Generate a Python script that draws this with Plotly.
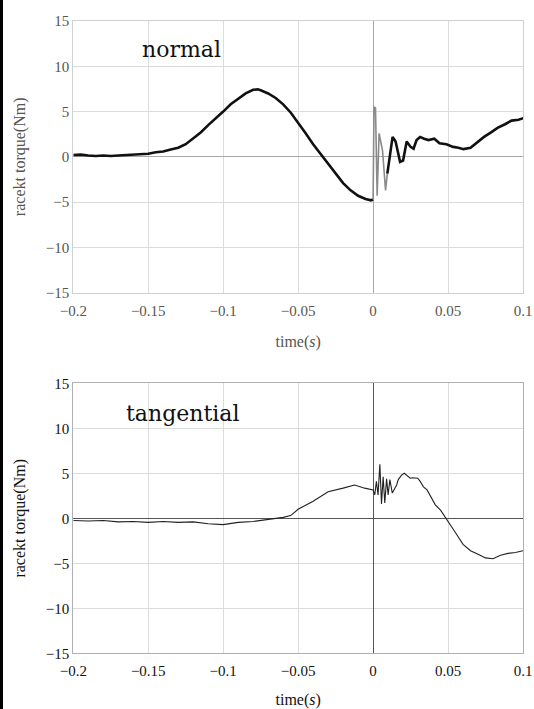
import numpy as np
import plotly.graph_objects as go

# ---------------- data ----------------
# normal racket torque (top panel)
normal_t = [-0.200, -0.195, -0.190, -0.185, -0.180, -0.175, -0.170, -0.165, -0.160, -0.155,
            -0.150, -0.145, -0.140, -0.135, -0.130, -0.125, -0.120, -0.115, -0.110, -0.105,
            -0.100, -0.095, -0.090, -0.085, -0.080, -0.077, -0.075, -0.070, -0.065, -0.060,
            -0.055, -0.050, -0.045, -0.040, -0.035, -0.030, -0.025, -0.020, -0.015, -0.010,
            -0.005, -0.0015, 0.0000]
normal_v = [0.2, 0.25, 0.15, 0.1, 0.15, 0.1, 0.15, 0.2, 0.25, 0.3,
            0.35, 0.5, 0.6, 0.8, 1.0, 1.4, 2.0, 2.7, 3.5, 4.2,
            5.0, 5.8, 6.4, 7.0, 7.4, 7.45, 7.35, 7.0, 6.5, 5.8,
            4.9, 3.8, 2.6, 1.4, 0.3, -0.8, -1.9, -2.9, -3.7, -4.3,
            -4.65, -4.8, -4.7]
# impact oscillation (drawn thin grey)
impact_t = [0.0000, 0.0006, 0.0016, 0.0027, 0.0040, 0.0063, 0.0083, 0.0095]
impact_v = [-4.7, 5.5, 5.4, -4.3, 2.6, 0.7, -3.7, -1.85]
# after impact
post_t = [0.0095, 0.0130, 0.0150, 0.0180, 0.0200, 0.0224, 0.0250, 0.0270, 0.0290,
          0.0314, 0.0340, 0.0370, 0.0408, 0.0443, 0.0489, 0.0534, 0.0569, 0.0603, 0.0650,
          0.0695, 0.0740, 0.0787, 0.0830, 0.0880, 0.0924, 0.0970, 0.1007]
post_v = [-1.85, 2.2, 1.7, -0.55, -0.4, 1.7, 1.1, 0.9, 1.85,
          2.2, 2.0, 1.85, 2.0, 1.5, 1.4, 1.1, 1.0, 0.85, 1.0,
          1.6, 2.2, 2.7, 3.2, 3.6, 4.0, 4.1, 4.3]

# tangential racket torque (bottom panel)
tang_t = [-0.200, -0.190, -0.180, -0.170, -0.160, -0.150, -0.140, -0.130, -0.120, -0.110,
          -0.100, -0.090, -0.080, -0.070, -0.060, -0.055, -0.050, -0.040, -0.030, -0.020,
          -0.0123, -0.0056, 0.0000, 0.0011, 0.0022, 0.0033, 0.0045, 0.0056, 0.0067, 0.0078,
          0.0090, 0.0100, 0.0112, 0.0128, 0.0141, 0.0157, 0.0168, 0.0190, 0.0208, 0.0224,
          0.0247, 0.0260, 0.0280, 0.0298, 0.0314, 0.0336, 0.0360, 0.0380, 0.0415, 0.0450,
          0.0500, 0.0550, 0.0600, 0.0650, 0.0700, 0.0750, 0.0800, 0.0850, 0.0900, 0.0950,
          0.1000]
tang_v = [-0.25, -0.3, -0.25, -0.4, -0.35, -0.45, -0.35, -0.45, -0.4, -0.6,
          -0.7, -0.45, -0.35, -0.15, 0.1, 0.3, 1.0, 1.9, 2.95, 3.35,
          3.7, 3.35, 3.15, 2.6, 4.1, 2.6, 6.0, 1.6, 4.6, 1.7,
          4.4, 2.6, 4.3, 2.8, 3.2, 3.7, 4.3, 4.8, 5.0, 4.8,
          4.45, 4.5, 4.45, 4.45, 4.1, 3.5, 3.15, 2.6, 1.5, 0.9,
          -0.3, -1.6, -2.9, -3.6, -4.0, -4.4, -4.5, -4.1, -3.9, -3.8,
          -3.6]

x_ticks = [-0.2, -0.15, -0.1, -0.05, 0, 0.05, 0.1]
x_ticktext = ["\u22120.2", "\u22120.15", "\u22120.1", "\u22120.05", "0", "0.05", "0.1"]
y_ticks = [-15, -10, -5, 0, 5, 10, 15]
y_ticktext = ["\u221215", "\u221210", "\u22125", "0", "5", "10", "15"]

# ---------------- figure ----------------
W, H = 534, 709
fig = go.Figure()

fig.add_trace(go.Scatter(x=normal_t, y=normal_v, mode="lines",
                         line=dict(color="#111111", width=2.6), xaxis="x", yaxis="y",
                         showlegend=False))
fig.add_trace(go.Scatter(x=impact_t, y=impact_v, mode="lines",
                         line=dict(color="#8a8a8a", width=1.6), xaxis="x", yaxis="y",
                         showlegend=False))
fig.add_trace(go.Scatter(x=post_t, y=post_v, mode="lines",
                         line=dict(color="#111111", width=2.6), xaxis="x", yaxis="y",
                         showlegend=False))
fig.add_trace(go.Scatter(x=tang_t, y=tang_v, mode="lines",
                         line=dict(color="#222222", width=1.1), xaxis="x2", yaxis="y2",
                         showlegend=False))

xdom = [73.3 / W, 523.0 / W]
top_dom = [1 - 292.7 / H, 1 - 21.0 / H]
bot_dom = [1 - 653.3 / H, 1 - 383.3 / H]

serif = "Liberation Serif"


def xaxis_cfg(anchor, color, zcol, lcol):
    return dict(domain=xdom, anchor=anchor, range=[-0.2, 0.1],
                tickvals=x_ticks, ticktext=x_ticktext, ticks="",
                ticklabelstandoff=4,
                showgrid=True, gridcolor="#dcdcdc", gridwidth=1,
                zeroline=True, zerolinecolor=zcol, zerolinewidth=1,
                showline=True, linecolor=lcol, linewidth=1, mirror=True,
                tickfont=dict(family=serif, size=15, color=color),
                title=dict(text="time(<i>s</i>)", font=dict(family=serif, size=16, color=color),
                           standoff=18),
                automargin=False, fixedrange=True)


def yaxis_cfg(anchor, dom, color, zcol, lcol):
    return dict(domain=dom, anchor=anchor, range=[-15, 15],
                tickvals=y_ticks, ticktext=y_ticktext, ticks="",
                showgrid=True, gridcolor="#dcdcdc", gridwidth=1,
                zeroline=True, zerolinecolor=zcol, zerolinewidth=1,
                showline=True, linecolor=lcol, linewidth=1, mirror=True,
                tickfont=dict(family=serif, size=15, color=color),
                title=dict(text="racekt torque(Nm)", font=dict(family=serif, size=16, color=color),
                           standoff=16),
                automargin=False, fixedrange=True)


fig.update_layout(
    width=W, height=H,
    margin=dict(l=0, r=0, t=0, b=0),
    paper_bgcolor="white", plot_bgcolor="white",
    font=dict(family=serif),
    xaxis=xaxis_cfg("y", "#555555", "#a8a8a8", "#d0d0d0"),
    yaxis=yaxis_cfg("x", top_dom, "#555555", "#a8a8a8", "#d0d0d0"),
    xaxis2=xaxis_cfg("y2", "#111111", "#555555", "#b0b0b0"),
    yaxis2=yaxis_cfg("x2", bot_dom, "#111111", "#555555", "#b0b0b0"),
    annotations=[
        dict(text="normal", xref="x", yref="y",
             x=-0.2 + (181.7 - 73.3) / 449.7 * 0.3, y=15 - (50.0 - 21.0) / 271.7 * 30,
             xanchor="center", yanchor="middle", showarrow=False,
             font=dict(family="DejaVu Serif", size=22, color="#111111")),
        dict(text="tangential", xref="x2", yref="y2",
             x=-0.2 + (182.6 - 73.3) / 449.7 * 0.3, y=15 - (413.0 - 383.3) / 270.0 * 30,
             xanchor="center", yanchor="middle", showarrow=False,
             font=dict(family="DejaVu Serif", size=22, color="#111111")),
    ],
    shapes=[dict(type="rect", xref="paper", yref="paper", x0=0, x1=3.0 / W, y0=0, y1=1,
                 fillcolor="black", line=dict(width=0), layer="above")],
)

fig.write_html("out.html")
